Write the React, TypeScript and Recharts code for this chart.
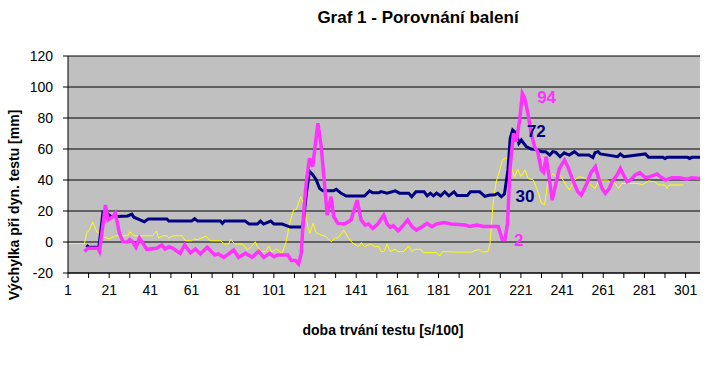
import { LineChart, Line, XAxis, YAxis, CartesianGrid, ReferenceDot } from "recharts";

// [time (s/100), deflection mm] vertices
const yellow: [number, number][] = [
  [1, -1], [9, -1], [10, 5.6], [11.5, 8], [13, 13], [15, 6.6], [16, 5.6], [18, 3.4], [21, 2], [24, 4],
  [30, 4], [31, 6.6], [33, 4], [42, 4], [44, 7], [45, 2.6], [47, 4], [49, 4], [50, 2.5], [52, 4],
  [55, 4], [56, 4.5], [58, 0.8], [61, 0.8], [62, 2], [64, 1.5], [68, 3.8], [70, 0.8], [75, 0.8], [77, -1.3],
  [79, -1.3], [80, 1.7], [82, -1.3], [86, -1.3], [88, -5.2], [90, -3], [92, 0.2], [93, -3], [95, -6.2], [97, -6.2],
  [98.5, -2.6], [100, -6.6], [102, -4.5], [103, -5.2], [105, -7.3], [107, 0.2], [108.5, 11], [110.5, 20.6], [112, 21], [114, 29.2],
  [116, 22.8], [117.5, 9.9], [118.5, 5.6], [120, 12], [121.5, 6], [124, 4.5], [126, 3.8], [127, 2.4], [129, 0.2], [131, 3],
  [132, 2.4], [135, 7.7], [137, 3], [139, -0.4], [142, -3], [143.5, -0.4], [145, -3], [148, -1.3], [150, -3], [152, -3],
  [153, -6.2], [154.5, -6.2], [156, -1.3], [157.5, -6.2], [160, -4.5], [161, -6.2], [164, -6.2], [166.5, -2.6], [168, -6.2], [169.5, -4.7],
  [172.5, -4.7], [173.5, -6.9], [180, -6.9], [181.5, -9], [183, -6.2], [190, -6.5], [197, -6.5], [200.5, -4.7], [202, -6.5], [205, -6.2],
  [206, -1], [207.5, 25], [209, 38.9], [210.5, 45.4], [212, 52.9], [214, 54.6], [215.5, 50.8], [218, 42.2], [219.5, 46.9], [221, 42.2],
  [223, 46.5], [224.5, 41], [227, 40], [229, 33.5], [231, 25], [232.5, 24], [234, 37.8], [236.5, 44.3], [238, 42], [240, 43],
  [242, 38.9], [244.5, 33.5], [247, 40], [249.5, 42.2], [252.5, 41], [255, 36.8], [257, 34.6], [259, 40], [263, 40], [264.5, 38.3],
  [266.5, 38.3], [268.5, 34.6], [270, 37.8], [278, 37.8], [280, 36.8], [283, 39.4], [286, 38.8], [288, 36.8], [291, 36.8], [292, 34.6],
  [293, 36.8], [300, 36.8],
];

const navy: [number, number][] = [
  [10, -2], [11, -3.4], [16, -3.4], [18, 19.5], [19, 20], [20, 18.5], [22, 16.3], [30, 16.8], [32, 18], [33, 16],
  [36, 14.2], [38, 13.1], [40, 14.9], [49, 14.9], [50, 13.5], [61, 13.5], [62.5, 15], [64, 13.5], [75, 13.5], [76, 12],
  [77, 13.5], [87, 13.5], [89, 11.6], [93, 11.6], [94.5, 13.5], [96, 11.6], [99.5, 13.5], [101, 11.6], [105, 11.6], [109, 9.6],
  [115, 9.6], [116.8, 31.4], [118.3, 45.6], [120, 43.2], [121.6, 40], [123.2, 34.6], [124.8, 33], [130, 33], [131.3, 34], [133.7, 31.4],
  [136.1, 29.7], [145, 29.7], [147.5, 33], [149, 31.8], [152, 31.8], [153, 32.5], [156, 31.5], [160, 33], [162, 31.5], [166.5, 31.5],
  [168, 29.2], [170, 32.4], [174, 32.4], [175.5, 29.8], [177, 31.5], [178.5, 29.8], [180, 31.5], [182, 29.8], [184, 32.4], [186, 29.8],
  [188.5, 32.4], [190, 30], [195, 30], [196.5, 32.4], [201, 32.4], [203.5, 29.5], [206, 30.3], [208, 30.3], [209.8, 31.4], [211.5, 29.2],
  [213, 31], [214.7, 46.5], [215.8, 66.9], [217, 72.3], [218.8, 70.1], [220, 63.7], [221.2, 65.8], [223.6, 61.5], [226, 60], [228.5, 59.6],
  [231, 58.3], [233, 58.3], [235, 56.1], [236.5, 58.3], [238, 57.8], [240, 55], [242, 57.5], [244.5, 56.1], [247, 58.3], [249, 56.1],
  [254, 56.1], [256, 54.5], [257, 57.6], [258.5, 58.3], [259.6, 56.8], [268, 55], [269.3, 56.8], [271, 55], [281.5, 56.8], [283, 54.6],
  [290, 54.6], [291, 53.8], [292, 54.6], [302, 54.6], [303, 53.8], [304, 54.6], [308, 54.6],
];

const magenta: [number, number][] = [
  [9, -6.2], [10.7, -4], [15.5, -4], [16.3, -6], [19.2, 23.9], [20.4, 14.2], [22.8, 16.3], [24, 18.5], [26, 5.6], [27.7, 0.2],
  [30, 0], [31, 1.5], [32.5, 0], [34, -3.4], [35.7, 2.6], [37, 0], [39.3, -4.7], [44, -4], [46.6, -2], [48.2, -4.5],
  [50, -3], [52, -4], [55.5, -7.3], [57.7, -1.9], [60.5, -6.9], [62.9, -4.5], [65.3, -7.7], [68.6, -3.4], [72.3, -8.4], [74, -7.7],
  [76.7, -9.9], [81.5, -5.2], [83.9, -9.9], [87.2, -7.3], [90.4, -9.9], [93.6, -6], [96.1, -9.9], [99, -7.3], [101, -9.5], [103, -8.4],
  [107.8, -8.4], [109.5, -12], [111.5, -12], [113, -14.2], [114.3, -7.3], [115.6, 20.6], [116.7, 37.8], [118.3, 54], [119.9, 48.6], [121, 61.5],
  [122.4, 76.6], [124, 61.5], [125.6, 37.8], [126.9, 17.4], [128.8, 29.2], [130.1, 16.3], [132.1, 12], [135.3, 11.6], [138.5, 14.2], [141.4, 27],
  [143.4, 14.2], [145.3, 11], [147, 11.6], [149, 8.8], [151.5, 11.6], [154.4, 17.4], [156, 11.6], [157.6, 9.5], [159, 10.5], [161.3, 7.3],
  [163, 9.5], [166, 14.2], [168.1, 9.9], [170.2, 7.7], [173, 9.9], [175.4, 12], [177.8, 9.9], [180, 11.6], [183.8, 12.5], [187, 11.6],
  [194, 11], [196, 10], [199.6, 11], [202.9, 10], [210, 10], [211.9, 1.7], [213.3, 1.7], [214.5, 12], [215.8, 48.6], [217.4, 70.1],
  [218.8, 64.7], [220.4, 78.7], [221.7, 95.9], [222.8, 93], [224.4, 83], [226, 70], [227.6, 61.5], [229.2, 58], [230.9, 46.5], [232, 45],
  [233.3, 55], [234.9, 40], [236.2, 27], [237.3, 33.5], [239.7, 47.5], [242.2, 52.9], [243.8, 48.6], [246.2, 40], [248.6, 32.5], [250.3, 30.3],
  [252.7, 36.8], [255.1, 45], [257.2, 48.6], [258.8, 41], [260.4, 34.6], [262, 31.4], [264, 34.6], [265.3, 38.9], [267.7, 43.2], [269.3, 47.5],
  [270.9, 43.2], [272.6, 38.9], [274.2, 40], [276.6, 43.2], [278.7, 44.7], [281.5, 41.5], [283.9, 42.2], [287.1, 43.9], [288.8, 42.2], [291.2, 40],
  [294.4, 41.5], [298, 41.5], [301.7, 40.5], [304, 41.5], [308, 41],
];

const xTicks = [1, 11, 21, 31, 41, 51, 61, 71, 81, 91, 101, 111, 121, 131, 141, 151, 161, 171, 181, 191, 201, 211, 221, 231, 241, 251, 261, 271, 281, 291, 301];
const yTicks = [-20, 0, 20, 40, 60, 80, 100, 120];

// text notes written into the plot: [label, t, value, colour]
const notes: [string, number, number, string][] = [
  ["94", 233.5, 93.5, "#FF33FF"],
  ["72", 228.5, 71.5, "#000080"],
  ["30", 223, 29.5, "#000080"],
  ["2", 220, 1, "#FF33FF"],
];

const toRows = (pts: [number, number][]) => pts.map(([t, v]) => ({ t, v }));

const font = "'Liberation Sans', Arial, sans-serif";

function XTick(props: any) {
  const { x, y, payload } = props;
  if ((payload.value - 1) % 20 !== 0) return <g />;
  return (
    <text x={x} y={y} dy={11} textAnchor="middle" fontSize={14} fill="#000" fontFamily={font}>
      {payload.value}
    </text>
  );
}

export default function App() {
  return (
    <div style={{ position: "absolute", left: 0, top: 0, width: 721, height: 376, background: "#fff", fontFamily: font }}>
      <div style={{ position: "absolute", left: 418, top: 18, transform: "translate(-50%, -50%)", fontWeight: "bold", fontSize: 17, whiteSpace: "nowrap" }}>
        Graf 1 - Porovnání balení
      </div>
      <div style={{ position: "absolute", left: 383, top: 330, transform: "translate(-50%, -50%)", fontWeight: "bold", fontSize: 14, whiteSpace: "nowrap" }}>
        doba trvání testu [s/100]
      </div>
      <div style={{ position: "absolute", left: 14, top: 205, transform: "translate(-50%, -50%) rotate(-90deg)", fontWeight: "bold", fontSize: 14, whiteSpace: "nowrap" }}>
        Výchylka při dyn. testu [mm]
      </div>
      <LineChart width={721} height={376} margin={{ top: 56, right: 21, left: 0, bottom: 73 }}>
        <CartesianGrid fill="#C0C0C0" stroke="#000" vertical={false} horizontalValues={yTicks} />
        <XAxis
          type="number"
          dataKey="t"
          domain={[1, 308]}
          ticks={xTicks}
          interval={0}
          height={30}
          tickSize={5}
          tickMargin={6}
          stroke="#000"
          tick={<XTick />}
          allowDataOverflow
        />
        <YAxis
          type="number"
          domain={[-20, 120]}
          ticks={yTicks}
          interval={0}
          width={68}
          tickSize={5}
          tickMargin={10}
          stroke="#000"
          tick={{ fill: "#000", fontSize: 14, fontFamily: font }}
        />
        <Line data={toRows(yellow)} dataKey="v" stroke="#FFFF00" strokeWidth={1} dot={false} isAnimationActive={false} />
        <Line data={toRows(navy)} dataKey="v" stroke="#000080" strokeWidth={3} dot={false} isAnimationActive={false} />
        <Line data={toRows(magenta)} dataKey="v" stroke="#FF33FF" strokeWidth={3.5} dot={false} isAnimationActive={false} />
        {notes.map(([text, t, v, color]) => (
          <ReferenceDot
            key={text}
            x={t}
            y={v}
            r={0}
            fill="none"
            stroke="none"
            ifOverflow="visible"
            label={{ value: text, position: "center", fill: color, fontSize: 17, fontWeight: "bold", fontFamily: font }}
          />
        ))}
      </LineChart>
    </div>
  );
}
